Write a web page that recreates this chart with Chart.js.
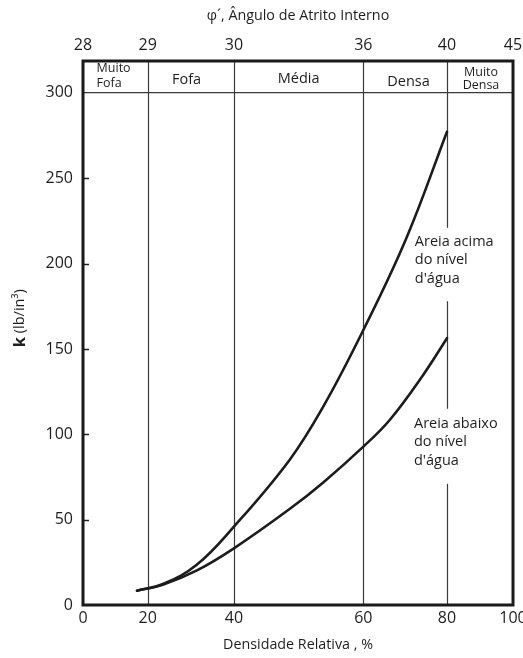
<!DOCTYPE html>
<html>
<head>
<meta charset="utf-8">
<script src="https://cdn.jsdelivr.net/npm/chart.js@4.4.1/dist/chart.umd.min.js"></script>
<style>
    html, body { margin: 0; padding: 0; background: #fff; }
    #wrap { width: 523px; height: 658px; }
</style>
</head>
<body>
<div id="wrap"><canvas id="chart"></canvas></div>
<script>
// Bottom axis: relative density (%), top axis: friction angle
const densityTicks = [0, 20, 40, 60, 80, 100];
const angleTicks = ['28', '29', '30', '36', '40', '45'];
// where each density tick sits along the axis (the original scale is not uniform)
const densityTickPos = [0, 0.1505, 0.351, 0.652, 0.8465, 1];

const kTicks = [0, 50, 100, 150, 200, 250, 300];

// Areia acima do nivel d'agua
const densityAbove = [16.7, 23.5, 31.3, 40, 48.6, 53.8, 60, 70.3, 80];
const kAbove = [8.4, 12.3, 23.4, 45.9, 85.0, 116.2, 161.1, 215.0, 277.3];

// Areia abaixo do nivel d'agua
const densityBelow = [16.7, 23.5, 31.3, 40, 48.6, 53.8, 60, 66.3, 74.3, 80];
const kBelow = [8.4, 11.9, 20.1, 33.2, 56.2, 71.8, 92.8, 108.4, 134.8, 156.3];

const dividers = [20, 40, 60, 80];
// the divider at 80 is broken where the curve labels sit (k range)
const dividerGaps = { 80: [[178, 221], [71, 115]] };

const bandLabels = [
    { lines: ['Muito', 'Fofa'], x: 4.2, y: [314.6, 305.6], size: 12.5, align: 'left' },
    { lines: ['Fofa'], x: 29, y: [307.6], size: 14.5, align: 'center' },
    { lines: ['Média'], x: 50, y: [308.2], size: 14.5, align: 'center' },
    { lines: ['Densa'], x: 70.8, y: [306.5], size: 14.5, align: 'center' },
    { lines: ['Muito', 'Densa'], x: 90.3, y: [312.1, 304.3], size: 12.5, align: 'center' }
];

const curveLabels = [
    { lines: ['Areia acima', 'do nível', "d'água"], x: 72.3, y: 212.7 },
    { lines: ['Areia abaixo', 'do nível', "d'água"], x: 72.1, y: 106.1 }
];

const FONT = '"Open Sans", "DejaVu Sans", sans-serif';
const INK = '#1e1e1e';

function decimalForDensity(v) {
    for (let i = 1; i < densityTicks.length; i++) {
        if (v <= densityTicks[i] || i === densityTicks.length - 1) {
            const a = densityTicks[i - 1], b = densityTicks[i];
            const t = (v - a) / (b - a);
            return densityTickPos[i - 1] + t * (densityTickPos[i] - densityTickPos[i - 1]);
        }
    }
    return 0;
}

function densityForDecimal(d) {
    for (let i = 1; i < densityTickPos.length; i++) {
        if (d <= densityTickPos[i] || i === densityTickPos.length - 1) {
            const a = densityTickPos[i - 1], b = densityTickPos[i];
            const t = (d - a) / (b - a);
            return densityTicks[i - 1] + t * (densityTicks[i] - densityTicks[i - 1]);
        }
    }
    return 0;
}

class SegmentScale extends Chart.LinearScale {
    getPixelForValue(value) {
        return this.getPixelForDecimal(decimalForDensity(value));
    }
    getValueForPixel(pixel) {
        return densityForDecimal(this.getDecimalForPixel(pixel));
    }
}
SegmentScale.id = 'segment';
SegmentScale.defaults = Chart.LinearScale.defaults;
Chart.register(SegmentScale);

const toPoints = (xs, ys) => xs.map((x, i) => ({ x: x, y: ys[i] }));

const drawExtras = {
    id: 'drawExtras',
    beforeDatasetsDraw(chart) {
        const { ctx, chartArea } = chart;
        const xs = chart.scales.x, ys = chart.scales.y;
        ctx.save();
        ctx.strokeStyle = '#3a3a3a';
        ctx.lineWidth = 1.2;
        dividers.forEach(d => {
            const px = Math.round(xs.getPixelForValue(d)) + 0.5;
            const gaps = (dividerGaps[d] || []).map(g => [ys.getPixelForValue(g[1]), ys.getPixelForValue(g[0])]);
            gaps.sort((a, b) => a[0] - b[0]);
            let start = chartArea.top;
            ctx.beginPath();
            gaps.forEach(g => {
                ctx.moveTo(px, start);
                ctx.lineTo(px, g[0]);
                start = g[1];
            });
            ctx.moveTo(px, start);
            ctx.lineTo(px, chartArea.bottom);
            ctx.stroke();
        });
        // small inward ticks on the k axis
        ctx.strokeStyle = INK;
        ctx.lineWidth = 1.5;
        kTicks.forEach(k => {
            if (k === 0 || k === 300) return;
            const py = Math.round(ys.getPixelForValue(k)) + 0.5;
            ctx.beginPath();
            ctx.moveTo(chartArea.left, py);
            ctx.lineTo(chartArea.left + 6, py);
            ctx.stroke();
        });
        ctx.restore();
    },
    afterDraw(chart) {
        const { ctx, chartArea } = chart;
        const xs = chart.scales.x, ys = chart.scales.y;
        ctx.save();
        ctx.fillStyle = INK;
        ctx.textBaseline = 'middle';

        bandLabels.forEach(b => {
            ctx.font = b.size + 'px ' + FONT;
            ctx.textAlign = b.align;
            b.lines.forEach((t, i) => {
                ctx.fillText(t, xs.getPixelForValue(b.x), ys.getPixelForValue(b.y[i]));
            });
        });

        ctx.font = '14.5px ' + FONT;
        ctx.textAlign = 'left';
        curveLabels.forEach(c => {
            const x0 = xs.getPixelForValue(c.x), y0 = ys.getPixelForValue(c.y);
            c.lines.forEach((t, i) => ctx.fillText(t, x0, y0 + i * 18.3));
        });

        // plot frame
        ctx.strokeStyle = '#1a1a1a';
        ctx.lineWidth = 3;
        ctx.strokeRect(chartArea.left, chartArea.top, chartArea.right - chartArea.left, chartArea.bottom - chartArea.top);

        // y axis title with bold k
        const cy = ys.getPixelForValue(168);
        ctx.translate(20, cy);
        ctx.rotate(-Math.PI / 2);
        const boldFont = 'bold 16.5px ' + FONT, normFont = '14.5px ' + FONT;
        ctx.font = boldFont;
        const wk = ctx.measureText('k').width;
        ctx.font = normFont;
        const rest = ' (lb/in³)';
        const wr = ctx.measureText(rest).width;
        const sx = -(wk + wr) / 2;
        ctx.textAlign = 'left';
        ctx.font = boldFont;
        ctx.fillText('k', sx, 0);
        ctx.font = normFont;
        ctx.fillText(rest, sx + wk, 0);
        ctx.restore();
    }
};

const fixSize = (w, h) => scale => {
    if (w !== null) scale.width = w;
    if (h !== null) scale.height = h;
    scale.paddingLeft = 0;
    scale.paddingRight = 0;
    scale.paddingTop = 0;
    scale.paddingBottom = 0;
};

const lineStyle = {
    borderColor: '#1c1c1c',
    borderWidth: 2.6,
    pointRadius: 0,
    fill: false,
    tension: 0.4,
    borderCapStyle: 'round'
};

new Chart(document.getElementById('chart'), {
    type: 'line',
    data: {
        datasets: [
            Object.assign({ label: "Areia acima do nível d'água", data: toPoints(densityAbove, kAbove) }, lineStyle),
            Object.assign({ label: "Areia abaixo do nível d'água", data: toPoints(densityBelow, kBelow) }, lineStyle)
        ]
    },
    options: {
        responsive: true,
        maintainAspectRatio: false,
        animation: false,
        layout: { padding: { left: 0, right: 10, top: 0, bottom: 0 } },
        plugins: {
            legend: { display: false },
            tooltip: { enabled: false }
        },
        scales: {
            x: {
                type: 'segment',
                position: 'bottom',
                min: 0,
                max: 100,
                afterBuildTicks: s => { s.ticks = densityTicks.map(v => ({ value: v })); },
                afterFit: fixSize(null, 53),
                grid: { display: false, drawTicks: false },
                border: { display: false },
                ticks: {
                    padding: 4,
                    maxRotation: 0,
                    autoSkip: false,
                    color: INK,
                    font: { family: FONT, size: 16 }
                },
                title: {
                    display: true,
                    text: 'Densidade Relativa , %',
                    color: INK,
                    font: { family: FONT, size: 14.3 },
                    padding: { top: 0, bottom: 4 }
                }
            },
            x2: {
                type: 'segment',
                position: 'top',
                min: 0,
                max: 100,
                afterBuildTicks: s => { s.ticks = densityTicks.map(v => ({ value: v })); },
                afterFit: fixSize(null, 61),
                grid: { display: false, drawTicks: false },
                border: { display: false },
                ticks: {
                    padding: 6,
                    maxRotation: 0,
                    autoSkip: false,
                    color: INK,
                    font: { family: FONT, size: 16 },
                    callback: (v, i) => angleTicks[i]
                },
                title: {
                    display: true,
                    text: 'φ´, Ângulo de Atrito Interno',
                    color: INK,
                    font: { family: FONT, size: 14.3 },
                    padding: { top: 7, bottom: 0 }
                }
            },
            y: {
                min: 0,
                max: 318.7,
                afterBuildTicks: s => { s.ticks = kTicks.map(v => ({ value: v })); },
                afterFit: fixSize(83, null),
                grid: {
                    drawTicks: false,
                    color: c => (c.tick && c.tick.value === 300) ? '#3a3a3a' : 'rgba(0,0,0,0)',
                    lineWidth: 1.2
                },
                border: { display: false },
                ticks: {
                    padding: 10,
                    color: INK,
                    font: { family: FONT, size: 16 }
                },
                title: { display: false }
            }
        }
    },
    plugins: [drawExtras]
});
</script>
</body>
</html>
